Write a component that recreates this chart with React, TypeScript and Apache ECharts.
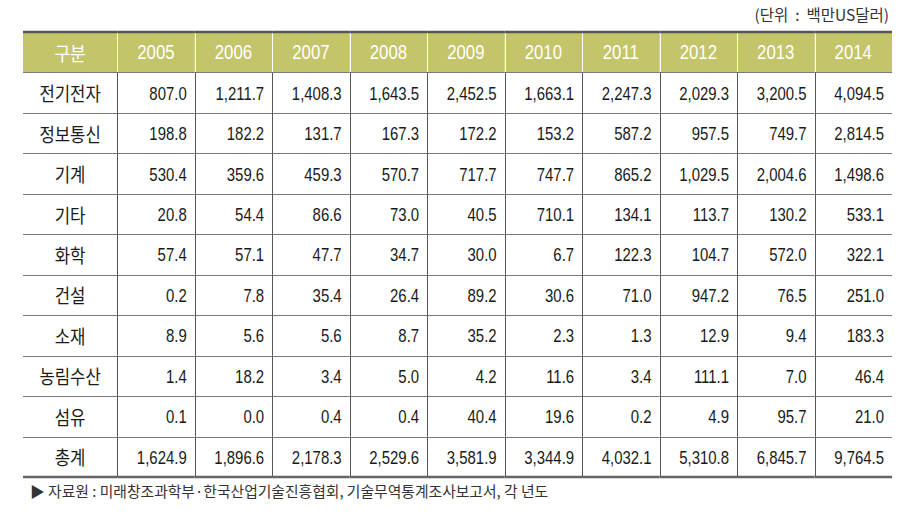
import React, { useEffect, useRef } from "react";
import * as echarts from "echarts";

const years = ["2005", "2006", "2007", "2008", "2009", "2010", "2011", "2012", "2013", "2014"];
const headerLabel = "구분";
const categories = ["전기전자", "정보통신", "기계", "기타", "화학", "건설", "소재", "농림수산", "섬유", "총계"];
const v전기전자 = [807.0, 1211.7, 1408.3, 1643.5, 2452.5, 1663.1, 2247.3, 2029.3, 3200.5, 4094.5];
const v정보통신 = [198.8, 182.2, 131.7, 167.3, 172.2, 153.2, 587.2, 957.5, 749.7, 2814.5];
const v기계 = [530.4, 359.6, 459.3, 570.7, 717.7, 747.7, 865.2, 1029.5, 2004.6, 1498.6];
const v기타 = [20.8, 54.4, 86.6, 73.0, 40.5, 710.1, 134.1, 113.7, 130.2, 533.1];
const v화학 = [57.4, 57.1, 47.7, 34.7, 30.0, 6.7, 122.3, 104.7, 572.0, 322.1];
const v건설 = [0.2, 7.8, 35.4, 26.4, 89.2, 30.6, 71.0, 947.2, 76.5, 251.0];
const v소재 = [8.9, 5.6, 5.6, 8.7, 35.2, 2.3, 1.3, 12.9, 9.4, 183.3];
const v농림수산 = [1.4, 18.2, 3.4, 5.0, 4.2, 11.6, 3.4, 111.1, 7.0, 46.4];
const v섬유 = [0.1, 0.0, 0.4, 0.4, 40.4, 19.6, 0.2, 4.9, 95.7, 21.0];
const v총계 = [1624.9, 1896.6, 2178.3, 2529.6, 3581.9, 3344.9, 4032.1, 5310.8, 6845.7, 9764.5];
const rowValues = [v전기전자, v정보통신, v기계, v기타, v화학, v건설, v소재, v농림수산, v섬유, v총계];
const unitText = "(단위  :  백만US달러)";
const sourceText = "▶ 자료원 : 미래창조과학부·한국산업기술진흥협회, 기술무역통계조사보고서, 각 년도";

const LABEL_W = 1.216; // label column width in year-column units
const NROWS = categories.length + 1;
const NCOLS = years.length;

const fmt = (v: number) =>
  v.toLocaleString("en-US", { minimumFractionDigits: 1, maximumFractionDigits: 1 });

const KR = "'Noto Sans CJK KR', sans-serif";
const NUM = "'Liberation Sans', Arial, sans-serif";

function cellBounds(api: any, col: number, row: number) {
  const x0 = col < 0 ? -LABEL_W : col;
  const x1 = col < 0 ? 0 : col + 1;
  const p0 = api.coord([x0, row]);
  const p1 = api.coord([x1, row + 1]);
  return { l: p0[0], t: p0[1], r: p1[0], b: p1[1] };
}

export default function App() {
  const ref = useRef<HTMLDivElement>(null);
  useEffect(() => {
    if (!ref.current) return;
    const chart = echarts.init(ref.current, undefined, { renderer: "svg" });
    const cells: number[][] = [];
    for (let r = 0; r < NROWS; r++) for (let c = -1; c < NCOLS; c++) cells.push([c, r]);

    const renderCell = (params: any, api: any) => {
      const [c, r] = cells[params.dataIndex];
      const { l, t, r: rr, b } = cellBounds(api, c, r);
      const header = r === 0;
      const children: any[] = [
        {
          type: "rect",
          shape: { x: l, y: t, width: rr - l, height: b - t },
          style: { fill: header ? "#c4c46a" : "#ffffff" },
        },
      ];
      const cy = (t + b) / 2;
      if (header) {
        const isLabel = c < 0;
        children.push({
          type: "text",
          x: (l + rr) / 2,
          y: cy,
          scaleX: isLabel ? 0.9 : 0.8,
          style: {
            text: isLabel ? headerLabel : years[c],
            align: "center",
            verticalAlign: "middle",
            fontSize: isLabel ? 19 : 21,
            fontFamily: isLabel ? KR : NUM,
            fill: "#ffffff",
          },
        });
      } else if (c < 0) {
        children.push({
          type: "text",
          x: (l + rr) / 2,
          y: cy,
          scaleX: 0.88,
          style: {
            text: categories[r - 1],
            align: "center",
            verticalAlign: "middle",
            fontSize: 19,
            fontFamily: KR,
            fill: "#1a1a1a",
          },
        });
      } else {
        children.push({
          type: "text",
          x: rr - 8,
          y: cy + 1,
          scaleX: 0.83,
          style: {
            text: fmt(rowValues[r - 1][c]),
            align: "right",
            verticalAlign: "middle",
            fontSize: 18,
            fontFamily: NUM,
            fill: "#1a1a1a",
          },
        });
      }
      return { type: "group", children };
    };

    const renderLines = (params: any, api: any) => {
      const [c, r] = cells[params.dataIndex];
      const { l, t, r: rr, b } = cellBounds(api, c, r);
      const header = r === 0;
      const children: any[] = [];
      if (c < NCOLS - 1) {
        const x = Math.round(rr) + 0.5;
        children.push({
          type: "line",
          shape: { x1: x, y1: t, x2: x, y2: b },
          style: { stroke: header ? "#ffffff" : "#555555", lineWidth: 1 },
        });
      }
      if (r < NROWS - 1) {
        const y = Math.round(b) + 0.5;
        children.push({
          type: "line",
          shape: { x1: l, y1: y, x2: rr, y2: y },
          style: { stroke: "#7a7a7a", lineWidth: 1 },
        });
      } else {
        const y = Math.round(b);
        children.push({
          type: "line",
          shape: { x1: l, y1: y, x2: rr, y2: y },
          style: { stroke: "#666666", lineWidth: 2.5 },
        });
      }
      if (r === 0) {
        const y = Math.round(t);
        children.push({
          type: "line",
          shape: { x1: l, y1: y, x2: rr, y2: y },
          style: { stroke: "#555555", lineWidth: 2.5 },
        });
      }
      return { type: "group", children };
    };

    chart.setOption({
      animation: false,
      grid: { left: 23, right: 19, top: 32, bottom: 38 },
      xAxis: { type: "value", min: -LABEL_W, max: NCOLS, show: false },
      yAxis: { type: "value", min: 0, max: NROWS, inverse: true, show: false },
      graphic: [
        {
          type: "text",
          right: 22,
          top: 6,
          style: { text: unitText, fontSize: 15.5, fontFamily: KR, fill: "#333333" },
        },
        {
          type: "text",
          left: 30,
          top: 483,
          style: { text: sourceText, fontSize: 14.8, fontFamily: KR, fill: "#333333" },
        },
      ],
      series: [
        { type: "custom", renderItem: renderCell, data: cells, z: 1, silent: true },
        { type: "custom", renderItem: renderLines, data: cells, z: 3, silent: true },
      ],
    });
    return () => chart.dispose();
  }, []);
  return (
    <div
      ref={ref}
      style={{ position: "absolute", left: 0, top: 0, width: 911, height: 515 }}
    />
  );
}
